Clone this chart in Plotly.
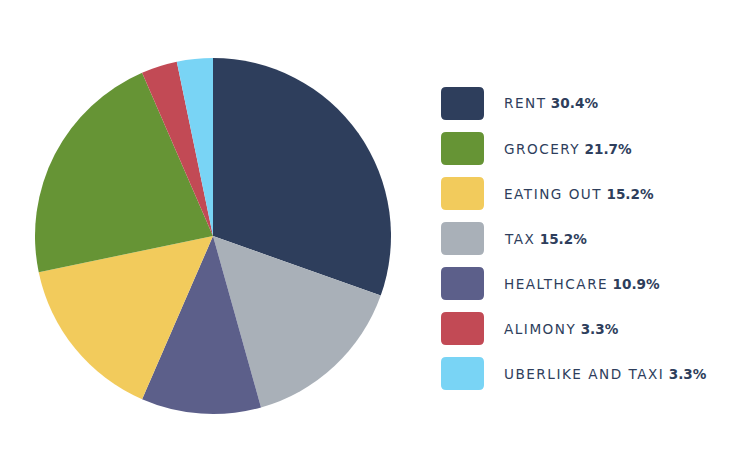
import plotly.graph_objects as go

# Data (slice order clockwise from 12 o'clock)
labels = ["RENT", "TAX", "HEALTHCARE", "EATING OUT", "GROCERY", "ALIMONY", "UBERLIKE AND TAXI"]
values = [28, 14, 10, 14, 20, 3, 3]
colors = ["#2e3e5c", "#a9b0b8", "#5c5f8a", "#f2cb5c", "#669435", "#c24a55", "#79d4f5"]

# Legend order
legend_order = ["RENT", "GROCERY", "EATING OUT", "TAX", "HEALTHCARE", "ALIMONY", "UBERLIKE AND TAXI"]

W, H = 737, 465
OFF = 8  # page offset of the plot
total = sum(values)

def px_x(x):
    return (x - OFF) / W

def px_y(y):
    return 1 - (y - OFF) / H

fig = go.Figure(go.Pie(
    labels=labels, values=values, sort=False, direction="clockwise", rotation=0,
    marker=dict(colors=colors, line=dict(width=0)),
    textinfo="none", hoverinfo="label+percent", showlegend=False,
    domain=dict(x=[px_x(35), px_x(391)], y=[px_y(414), px_y(58)]),
))

shapes = []
annotations = []
sw_x0, sw_w, sw_h, r = 441, 43, 33, 5
top0, step = 87, 45
text_color = "#2e3e5c"
for i, name in enumerate(legend_order):
    idx = labels.index(name)
    pct = values[idx] / total * 100
    x0, x1 = sw_x0, sw_x0 + sw_w
    y0, y1 = top0 + i * step, top0 + i * step + sw_h
    pts = [
        ("M", x0 + r, y0), ("L", x1 - r, y0), ("Q", x1, y0, x1, y0 + r),
        ("L", x1, y1 - r), ("Q", x1, y1, x1 - r, y1), ("L", x0 + r, y1),
        ("Q", x0, y1, x0, y1 - r), ("L", x0, y0 + r), ("Q", x0, y0, x0 + r, y0),
    ]
    path = ""
    for p in pts:
        cmd = p[0]
        coords = p[1:]
        s = " ".join(
            f"{px_x(coords[j]):.5f},{px_y(coords[j + 1]):.5f}" for j in range(0, len(coords), 2)
        )
        path += f"{cmd}{s} "
    path += "Z"
    shapes.append(dict(type="path", xref="paper", yref="paper", path=path,
                       fillcolor=colors[idx], line=dict(width=0)))
    annotations.append(dict(
        xref="paper", yref="paper", x=px_x(502), y=px_y((y0 + y1) / 2),
        xanchor="left", yanchor="middle", showarrow=False,
        text=f'<span style="letter-spacing:1.5px">{name}</span> <b>{pct:.1f}%</b>',
        font=dict(family="DejaVu Sans", size=13.6, color=text_color),
    ))

fig.update_layout(
    width=W, height=H, margin=dict(l=0, r=0, t=0, b=0),
    paper_bgcolor="white", plot_bgcolor="white",
    shapes=shapes, annotations=annotations,
)

fig.write_html("out.html")
